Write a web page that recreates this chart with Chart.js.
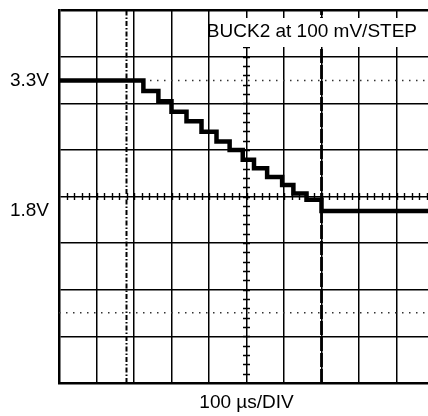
<!DOCTYPE html>
<html>
<head>
<meta charset="utf-8">
<script src="https://cdn.jsdelivr.net/npm/chart.js@4.4.1/dist/chart.umd.min.js"></script>
<style>
  html, body { margin: 0; padding: 0; background: #fff; overflow: hidden; }
  canvas { display: block; }
</style>
</head>
<body>
<canvas id="scope" width="434" height="416"></canvas>
<script>
// Forma de onda BUCK2 (tiempo en µs, tensión en V)
const timeUs = [0, 225, 265, 300, 340, 380, 420, 455, 490, 520, 555, 595, 625, 660, 700, 1000];
const voltage = [3.30, 3.18, 3.06, 2.94, 2.83, 2.71, 2.60, 2.50, 2.39, 2.29, 2.19, 2.10, 2.00, 1.93, 1.80, 1.80];

// Cursores y marcas
const cursorTimes = [180, 700];
const markerLevels = [3.3, 0.63];
const levelValues = [3.3, 1.8];
const levelLabels = ['3.3V', '1.8V'];

// Retícula del osciloscopio (10 x 8 divisiones, 100 µs/DIV)
const xMax = 1000;
const xDivs = [0, 100, 200, 300, 400, 500, 600, 700, 800, 900, 1000];
const yMin = -0.177;
const yMax = 4.11;
const yDiv = (yMax - yMin) / 8;

const font = "'Liberation Sans', Arial, sans-serif";

const reticula = {
    id: 'reticula',
    beforeDatasetsDraw(chart) {
        const { ctx, scales: { x, y } } = chart;
        const cy = y.getPixelForValue(yMin + 4 * yDiv);
        const cx = x.getPixelForValue(500);
        ctx.save();
        ctx.strokeStyle = '#000';
        ctx.lineWidth = 1.4;
        ctx.beginPath();
        for (let t = 20; t < xMax; t += 20) {
            const px = Math.round(x.getPixelForValue(t)) + 0.5;
            ctx.moveTo(px, cy - 3.5);
            ctx.lineTo(px, cy + 3.5);
        }
        for (let i = 1; i < 40; i++) {
            const py = Math.round(y.getPixelForValue(yMin + i * yDiv / 5)) + 0.5;
            ctx.moveTo(cx - 3.5, py);
            ctx.lineTo(cx + 3.5, py);
        }
        ctx.stroke();
        ctx.restore();
    },
    afterDatasetsDraw(chart) {
        const { ctx, chartArea } = chart;
        ctx.save();
        ctx.fillStyle = '#fff';
        ctx.fillRect(211, 18, chartArea.right - 211, 29);
        ctx.fillStyle = '#000';
        ctx.font = '19px ' + font;
        ctx.textAlign = 'right';
        ctx.textBaseline = 'middle';
        ctx.fillText('BUCK2 at 100 mV/STEP', 417, 32);
        ctx.restore();
    }
};

const lineaVertical = (t) => [{ x: t, y: yMin }, { x: t, y: yMax }];
const lineaHorizontal = (v) => [{ x: 0, y: v }, { x: xMax, y: v }];

new Chart(document.getElementById('scope'), {
    type: 'line',
    data: {
        datasets: [
            {
                data: timeUs.map((t, i) => ({ x: t, y: voltage[i] })),
                borderColor: '#000',
                borderWidth: 4.5,
                stepped: true,
                borderJoinStyle: 'miter',
                pointRadius: 0
            },
            {
                data: lineaVertical(cursorTimes[0]),
                borderColor: '#000',
                borderWidth: 2,
                borderDash: [5, 2, 1.5, 2],
                pointRadius: 0
            },
            {
                data: lineaVertical(cursorTimes[1]),
                borderColor: '#000',
                borderWidth: 2.8,
                borderDash: [14, 2],
                pointRadius: 0
            },
            ...markerLevels.map(v => ({
                data: lineaHorizontal(v),
                borderColor: '#333',
                borderWidth: 1.5,
                borderDash: [1.5, 5.5],
                pointRadius: 0
            }))
        ]
    },
    options: {
        responsive: false,
        animation: false,
        layout: { padding: { top: 10, left: 0, right: 0, bottom: 0 } },
        plugins: { legend: { display: false }, tooltip: { enabled: false } },
        scales: {
            x: {
                type: 'linear',
                min: 0,
                max: xMax,
                afterBuildTicks: axis => { axis.ticks = xDivs.map(v => ({ value: v })); },
                afterFit: axis => { axis.height = 33; axis.paddingLeft = 0; axis.paddingRight = 0; },
                ticks: { display: false },
                grid: { color: '#000', lineWidth: 1.5, drawTicks: false },
                border: { color: '#000', width: 2.5 },
                title: {
                    display: true,
                    text: '100 µs/DIV',
                    color: '#000',
                    font: { family: font, size: 19 },
                    padding: { top: 0, bottom: 2 }
                }
            },
            y: {
                type: 'linear',
                min: yMin,
                max: yMax,
                afterBuildTicks: axis => {
                    const divs = [];
                    for (let i = 0; i <= 8; i++) divs.push(yMin + i * yDiv);
                    axis.ticks = divs.concat(levelValues).map(v => ({ value: v }));
                },
                afterFit: axis => { axis.width = 59; axis.paddingTop = 0; axis.paddingBottom = 0; },
                ticks: {
                    autoSkip: false,
                    padding: 10,
                    color: '#000',
                    font: { family: font, size: 19 },
                    callback: (value) => {
                        const k = levelValues.findIndex(v => Math.abs(v - value) < 1e-6);
                        return k >= 0 ? levelLabels[k] : '';
                    }
                },
                grid: {
                    drawTicks: false,
                    color: c => levelValues.some(v => Math.abs(v - c.tick.value) < 1e-6) ? 'rgba(0,0,0,0)' : '#000',
                    lineWidth: c => Math.abs(c.tick.value - yMax) < 1e-6 ? 2.5 : 1.5
                },
                border: { color: '#000', width: 2.5 }
            }
        }
    },
    plugins: [reticula]
});
</script>
</body>
</html>
